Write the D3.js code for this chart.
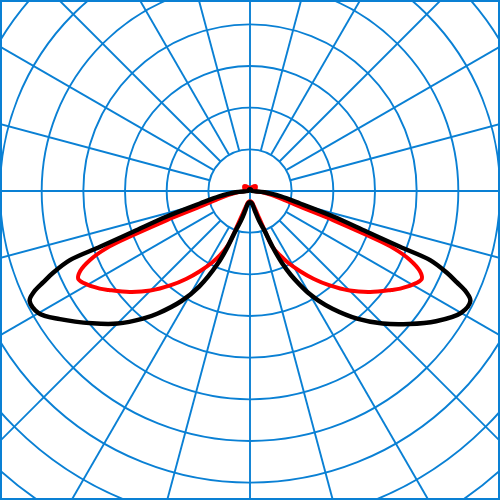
<!DOCTYPE html>
<html>
<head>
<meta charset="utf-8">
<script src="https://cdn.jsdelivr.net/npm/d3@7"></script>
<style>
  html, body { margin: 0; padding: 0; background: #fff; }
  svg { display: block; }
</style>
</head>
<body>
<svg width="500" height="500"></svg>
<script>
// angle from nadir in degrees (negative = left), intensity in grid units (100 per ring)
const blackAngles = [-180, -135, -100, -90, -85, -80, -76, -73, -70.8, -69.6, -69, -67.5, -66.2, -65, -63.5, -60, -56, -50, -45, -40, -37, -32, -28, -24, -22, -20, -17, -14, -10, -5,
  0, 5, 10, 14, 17, 20, 22, 24, 26, 28, 30, 32, 35, 40, 45, 50, 55, 60, 63.5, 65, 66.2, 67.5, 69, 69.6, 70.8, 73, 76, 80, 85, 90, 100, 135];
const blackValues = [4, 4, 4, 5, 35, 75, 124, 209, 297, 384, 463, 510, 542, 572, 591, 586, 550, 494, 450, 400, 368, 312, 260, 192, 148, 102, 75, 50, 32, 28,
  27, 28, 32, 50, 75, 100, 145, 190, 225, 255, 285, 310, 345, 400, 450, 497, 545, 585, 591, 572, 542, 510, 463, 384, 297, 209, 124, 75, 35, 5, 4, 4];

const redAngles = [-180, -155, -131, -110, -90, -85, -80, -76, -72.6, -70.7, -69.3, -68.3, -66.7, -64.8, -63, -61, -57, -55, -50, -45, -40, -36, -32, -28, -25, -22, -20, -18, -15, -10, -5,
  0, 5, 10, 15, 18, 20, 22, 25, 28, 32, 36, 40, 45, 50, 55, 57, 61, 63, 64.8, 66.7, 68.3, 69.3, 70.7, 72.6, 76, 80, 85, 90, 110, 131, 155];
const redValues = [6, 10, 18, 14, 10, 25, 50, 80, 126, 211, 299, 369, 418, 450, 463, 456, 430, 414, 377, 338, 295, 261, 227, 195, 170, 140, 88, 58, 40, 28, 25,
  25, 25, 28, 40, 60, 90, 145, 170, 195, 227, 261, 295, 338, 377, 414, 430, 456, 463, 450, 418, 369, 299, 211, 126, 80, 50, 25, 10, 14, 18, 10];

const ringValues = [100, 200, 300, 400, 500, 600, 700, 800, 900, 1000];
const spokeAngles = d3.range(0, 360, 15);

const width = 500, height = 500;
const cx = 250, cy = 191;
const gridColor = "#0a80d4";

const svg = d3.select("svg");
const r = d3.scaleLinear().domain([0, 600]).range([0, 250]);

svg.append("defs").append("clipPath").attr("id", "clip")
  .append("rect").attr("width", width).attr("height", height);

const g = svg.append("g").attr("clip-path", "url(#clip)");
const plot = g.append("g").attr("transform", `translate(${cx},${cy})`);

// rings
plot.selectAll(".ring")
  .data(ringValues)
  .enter().append("circle")
  .attr("class", "ring")
  .attr("r", d => r(d))
  .attr("fill", "none")
  .attr("stroke", gridColor)
  .attr("stroke-width", 1.9);

// spokes, start at first ring except the main axes
plot.selectAll(".spoke")
  .data(spokeAngles)
  .enter().append("line")
  .attr("class", "spoke")
  .attr("x1", d => (d % 90 === 0 ? 0 : r(100)) * Math.sin(d * Math.PI / 180))
  .attr("y1", d => (d % 90 === 0 ? 0 : r(100)) * Math.cos(d * Math.PI / 180))
  .attr("x2", d => r(1200) * Math.sin(d * Math.PI / 180))
  .attr("y2", d => r(1200) * Math.cos(d * Math.PI / 180))
  .attr("stroke", gridColor)
  .attr("stroke-width", 1.9);

// curves: nadir points down, lineRadial angle 0 is up
const radial = d3.lineRadial()
  .angle(d => Math.PI - d[0] * Math.PI / 180)
  .radius(d => r(d[1]))
  .curve(d3.curveCatmullRomClosed.alpha(0.5));

plot.append("path")
  .datum(redAngles.map((a, i) => [a, redValues[i]]))
  .attr("d", radial)
  .attr("fill", "none")
  .attr("stroke", "#f00")
  .attr("stroke-width", 4)
  .attr("stroke-linejoin", "round");

plot.append("path")
  .datum(blackAngles.map((a, i) => [a, blackValues[i]]))
  .attr("d", radial)
  .attr("fill", "none")
  .attr("stroke", "#000")
  .attr("stroke-width", 4.5)
  .attr("stroke-linejoin", "round");

// frame
svg.append("rect")
  .attr("x", 1).attr("y", 1)
  .attr("width", width - 2).attr("height", height - 2)
  .attr("fill", "none")
  .attr("stroke", gridColor)
  .attr("stroke-width", 2);
</script>
</body>
</html>
